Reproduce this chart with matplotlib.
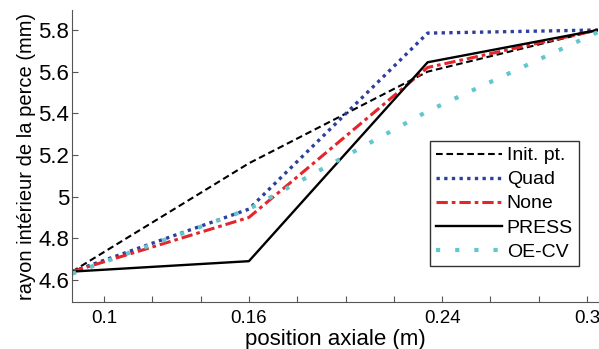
import matplotlib
matplotlib.use("Agg")
import matplotlib.pyplot as plt

plt.rcParams['font.family'] = ['Liberation Sans', 'DejaVu Sans']

# data (knots)
x_knots = [0.0868, 0.16, 0.234, 0.3045]
init_pt = [4.64, 5.16, 5.60, 5.80]
quad = [4.64, 4.94, 5.785, 5.80]
none = [4.64, 4.90, 5.62, 5.80]
press = [4.64, 4.69, 5.645, 5.80]
oecv = [4.63, 4.94, 5.41, 5.79]

xtick_pos = [0.10, 0.12, 0.14, 0.16, 0.18, 0.20, 0.22, 0.24, 0.26, 0.28, 0.30]
xtick_lab = ['0.1', '', '', '0.16', '', '', '', '0.24', '', '', '0.3']
ytick_pos = [4.6, 4.8, 5.0, 5.2, 5.4, 5.6, 5.8]
ytick_lab = ['4.6', '4.8', '5', '5.2', '5.4', '5.6', '5.8']

fig = plt.figure(figsize=(5.99, 3.49), dpi=100)
ax = fig.add_axes([72/599, 1-302/349, 526/599, 292/349])

ax.plot(x_knots, init_pt, color='black', lw=1.5, dashes=(3.2, 1.8), label='Init. pt.')
ax.plot(x_knots, quad, color='#2e3f9c', lw=2.4, dashes=(1, 1.3), solid_capstyle='butt',
        dash_capstyle='butt', label='Quad')
ax.plot(x_knots, none, color='#e3262b', lw=2.2, dashes=(3.7, 1.3, 1.2, 1.3), label='None')
ax.plot(x_knots, press, color='black', lw=1.7, label='PRESS')
ax.plot(x_knots, oecv, color='#62c6cc', lw=3.0, dashes=(1, 3.6), dash_capstyle='butt',
        label='OE-CV')

ax.set_xlim(0.08675, 0.30455)
ax.set_ylim(4.494, 5.896)
ax.set_xticks(xtick_pos)
ax.set_xticklabels(xtick_lab, fontsize=13.5)
ax.set_yticks(ytick_pos)
ax.set_yticklabels(ytick_lab, fontsize=16)
ax.tick_params(axis='both', direction='in', length=4, width=0.8, color='#555555')
ax.tick_params(axis='x', pad=6)
ax.tick_params(axis='y', pad=2)
for s in ['top', 'right']:
    ax.spines[s].set_visible(False)
for s in ['left', 'bottom']:
    ax.spines[s].set_color('#555555')
    ax.spines[s].set_linewidth(0.8)

ax.set_xlabel('position axiale (m)', fontsize=16, labelpad=1)
ax.set_ylabel('rayon intérieur de la perce (mm)', fontsize=14.5, labelpad=2)

leg = ax.legend(loc='upper left', bbox_to_anchor=((430-72)/526, (302-141)/292),
                fontsize=14, frameon=True, fancybox=False, edgecolor='black',
                handlelength=3.4, handletextpad=0.25, labelspacing=0.33,
                borderpad=0.3, borderaxespad=0)
leg.get_frame().set_linewidth(1.0)

fig.savefig('out.png', dpi=100)
